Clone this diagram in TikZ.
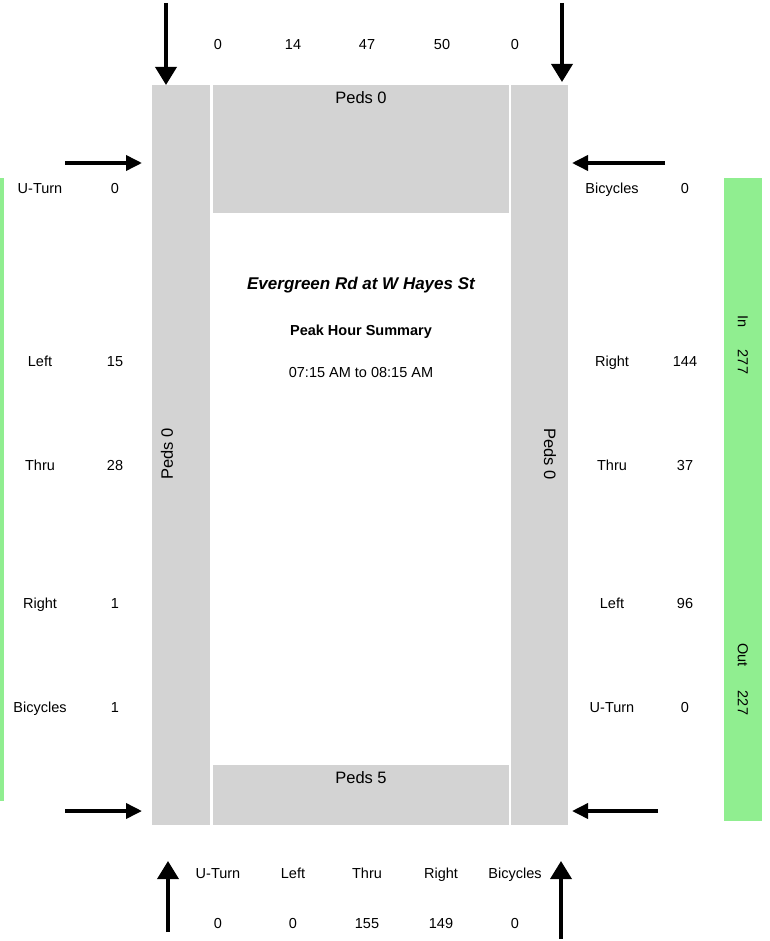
\documentclass[tikz,border=0pt]{standalone}
\usepackage{fontspec}
\setmainfont{Liberation Sans}
\usetikzlibrary{positioning}
\usetikzlibrary{arrows.meta}

\definecolor{walkgray}{RGB}{211,211,211}
\definecolor{legband}{RGB}{144,238,144}

\begin{document}
\begin{tikzpicture}
  [ x=1pt, y=-1pt
  , every node/.style={ font=\fontsize{14.5}{17}\selectfont
                      , inner sep=0pt
                      , text height=10.4pt
                      , text depth=0pt
                      }
  , pedtext/.style={font=\fontsize{16.5}{19}\selectfont, text height=11.8pt}
  , hflow/.style={line width=3.6pt, -{Triangle[width=15pt,length=16pt]}}
  , vflow/.style={line width=3.6pt, -{Triangle[width=21pt,length=18pt]}}
  ]

  \useasboundingbox (0,0) rectangle (769,941);

  % crosswalk blocks
  \fill [walkgray] (152,85) rectangle (210,825);
  \fill [walkgray] (511,85) rectangle (568,825);
  \fill [walkgray] (213,85) rectangle (509,213);
  \fill [walkgray] (213,765) rectangle (509,825);

  % volume bands
  \fill [legband] (0,178) rectangle (4,801);
  \fill [legband] (724,178) rectangle (762,821);

  \node [pedtext] (northpeds) at (361,98) {Peds 0};
  \node [pedtext] (southpeds) at (361,778) {Peds 5};
  \node [pedtext, rotate=90] (westpeds) at (167,454) {Peds 0};
  \node [pedtext, rotate=-90] (eastpeds) at (550,454) {Peds 0};

  % title block
  \node [font=\fontsize{17}{20}\selectfont\bfseries\itshape, text height=12.2pt]
    (title) at (361,283) {Evergreen Rd at W Hayes St};
  \node [font=\fontsize{14.5}{17}\selectfont\bfseries] (subtitle) at (361,330) {Peak Hour Summary};
  \node (period) at (361,372) {07:15 AM to 08:15 AM};

  % approach counts
  \foreach \x/\v in {218/0, 293/14, 367/47, 442/50, 515/0}
    \node (ncount\x) at (\x,44) {\v};
  \foreach \x/\m/\v in {218/U-Turn/0, 293/Left/0, 367/Thru/155, 441/Right/149, 515/Bicycles/0}
  {
    \node (smove\x) at (\x,873) {\m};
    \node (scount\x) at (\x,923) {\v};
  }
  \foreach \y/\m/\v in {188/U-Turn/0, 361/Left/15, 465/Thru/28, 603/Right/1, 707/Bicycles/1}
  {
    \node (wmove\y) at (40,\y) {\m};
    \node (wcount\y) at (115,\y) {\v};
  }
  \foreach \y/\m/\v in {188/Bicycles/0, 361/Right/144, 465/Thru/37, 603/Left/96, 707/U-Turn/0}
  {
    \node (emove\y) at (612,\y) {\m};
    \node (ecount\y) at (685,\y) {\v};
  }

  \node [rotate=-90] (inlabel) at (743,322) {In};
  \node [rotate=-90] (intotal) at (743,362) {277};
  \node [rotate=-90] (outlabel) at (743,655) {Out};
  \node [rotate=-90] (outtotal) at (743,703) {227};

  % flow arrows
  \coordinate (nwtail) at (166,3);   \coordinate (nwhead) at (166,85);
  \coordinate (netail) at (562,3);   \coordinate (nehead) at (562,82);
  \coordinate (swtail) at (168,932); \coordinate (swhead) at (168,861);
  \coordinate (setail) at (561,939); \coordinate (sehead) at (561,861);
  \coordinate (wntail) at (65,163);  \coordinate (wnhead) at (142,163);
  \coordinate (wstail) at (65,811);  \coordinate (wshead) at (142,811);
  \coordinate (entail) at (665,163); \coordinate (enhead) at (572,163);
  \coordinate (estail) at (658,811); \coordinate (eshead) at (572,811);

  \draw [vflow] (nwtail) -- (nwhead);
  \draw [vflow] (netail) -- (nehead);
  \draw [vflow] (swtail) -- (swhead);
  \draw [vflow] (setail) -- (sehead);
  \draw [hflow] (wntail) -- (wnhead);
  \draw [hflow] (wstail) -- (wshead);
  \draw [hflow] (entail) -- (enhead);
  \draw [hflow] (estail) -- (eshead);

\end{tikzpicture}
\end{document}
